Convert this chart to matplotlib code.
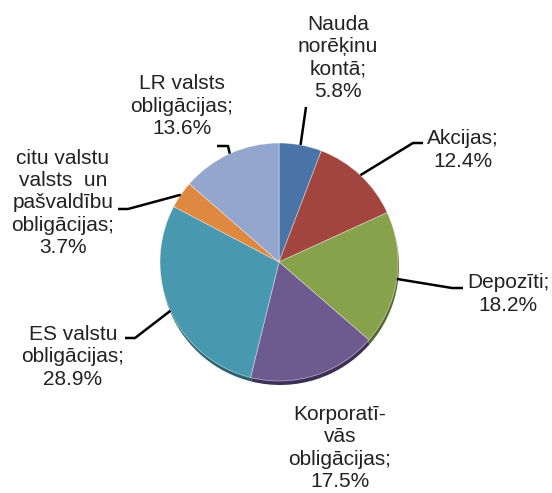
import matplotlib
matplotlib.use("Agg")
import matplotlib.pyplot as plt
import numpy as np

# ---- data ----
labels = ["Nauda\nnorēķinu\nkontā;", "Akcijas;", "Depozīti;", "Korporatī-\nvās\nobligācijas;",
          "ES valstu\nobligācijas;", "citu valstu\nvalsts  un\npašvaldību\nobligācijas;",
          "LR valsts\nobligācijas;"]
values = [5.8, 12.4, 18.2, 17.5, 28.9, 3.7, 13.6]
pct_text = ["5.8%", "12.4%", "18.2%", "17.5%", "28.9%", "3.7%", "13.6%"]

colors = ["#4A74A8", "#A2453F", "#86A24B", "#6D5A8F", "#4899AF", "#DE8841", "#93A7CE"]
shadow_colors = ["#2E4A6E", "#6A2A28", "#556830", "#3E2F57", "#2C6270", "#8E5628", "#5E6C88"]

W, H = 552, 493
fig = plt.figure(figsize=(W / 100, H / 100), dpi=100)
ax = fig.add_axes([0, 0, 1, 1])

cx, cy, r = 279, H - 262, 119

# shadow
ax.pie(values, colors=shadow_colors, startangle=90, counterclock=False,
       center=(cx + 1, cy - 4), radius=r, wedgeprops=dict(linewidth=0))
wedges, _ = ax.pie(values, colors=colors, startangle=90, counterclock=False,
                   center=(cx, cy), radius=r,
                   wedgeprops=dict(linewidth=0.6, edgecolor=(1, 1, 1, 0.5)))

# label layout (pixel coordinates, y from top)
text_pos = [(338, 58), (463, 150), (508, 294), (340, 448), (73, 357), (63, 203), (182, 106)]
elbows = [[(306, 107)], [(413, 143), (423, 143)], [(452, 288), (463, 288)], [],
          [(135, 338), (125, 338)], [(128, 209), (118, 209)], [(228, 146), (217, 146)]]

total = sum(values)
cum = 0.0
for i, v in enumerate(values):
    mid = (cum + v / 2) / total * 360.0
    cum += v
    ang = np.deg2rad(90 - mid)
    ex, ey = cx + r * np.cos(ang), cy + r * np.sin(ang)
    if elbows[i]:
        xs = [ex] + [p[0] for p in elbows[i]]
        ys = [ey] + [H - p[1] for p in elbows[i]]
        ax.plot(xs, ys, color="black", lw=1.8, solid_capstyle="butt", zorder=5)
    tx, ty = text_pos[i]
    ax.text(tx, H - ty, labels[i] + "\n" + pct_text[i], ha="center", va="center",
            fontsize=15, family=["Liberation Sans", "DejaVu Sans"], color="#222222",
            linespacing=1.22, zorder=6)

ax.set_xlim(0, W)
ax.set_ylim(0, H)
ax.set_aspect("equal")
ax.axis("off")
fig.savefig("out.png", dpi=100)
